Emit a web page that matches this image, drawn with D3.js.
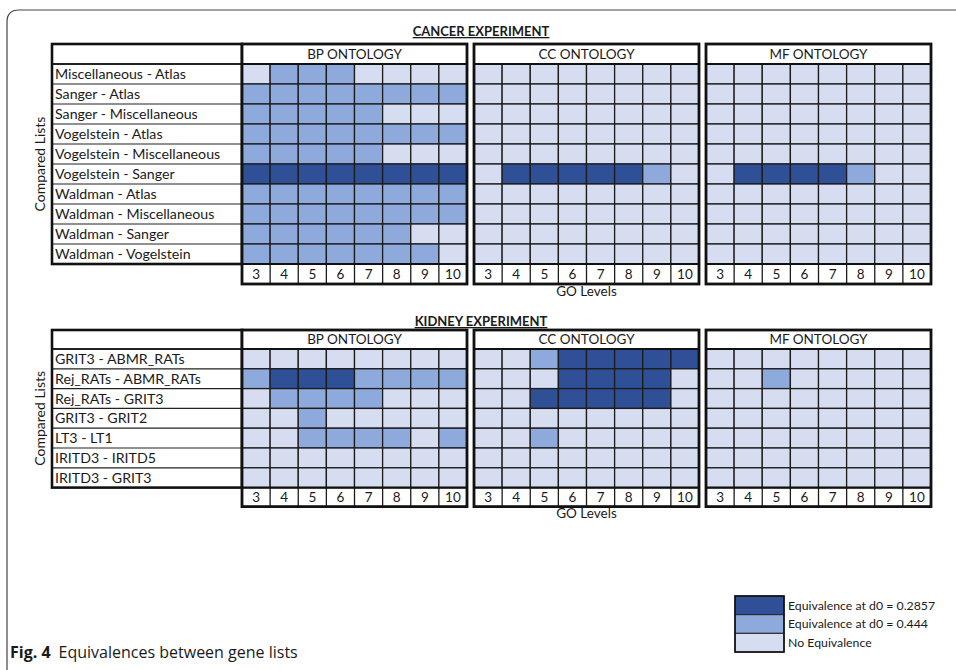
<!DOCTYPE html>
<html>
<head>
<meta charset="utf-8">
<script src="https://cdn.jsdelivr.net/npm/d3@7/dist/d3.min.js"></script>
<style>
  html, body { margin: 0; padding: 0; background: #fff; }
  svg { display: block; }
  text { font-family: Lato, "Open Sans", sans-serif; fill: #1a1a1a; }
</style>
</head>
<body>
<svg id="chart" width="956" height="670"></svg>
<script>
// GO levels shown on every panel
const levels = [3, 4, 5, 6, 7, 8, 9, 10];
const ontologies = ["BP ONTOLOGY", "CC ONTOLOGY", "MF ONTOLOGY"];

// Equivalence codes: 0 = none, 1 = equivalence at d0 = 0.444, 2 = equivalence at d0 = 0.2857
const legendLabels = ["Equivalence at d0 = 0.2857", "Equivalence at d0 = 0.444", "No Equivalence"];
const legendCodes = [2, 1, 0];

// Cancer experiment
const cancerPairs = [
  "Miscellaneous - Atlas", "Sanger - Atlas", "Sanger -  Miscellaneous", "Vogelstein - Atlas",
  "Vogelstein - Miscellaneous", "Vogelstein - Sanger", "Waldman - Atlas",
  "Waldman - Miscellaneous", "Waldman - Sanger", "Waldman - Vogelstein"
];
const cancerBP = [
  [0, 1, 1, 1, 0, 0, 0, 0],
  [1, 1, 1, 1, 1, 1, 1, 1],
  [1, 1, 1, 1, 1, 0, 0, 0],
  [1, 1, 1, 1, 1, 1, 1, 1],
  [1, 1, 1, 1, 1, 0, 0, 0],
  [2, 2, 2, 2, 2, 2, 2, 2],
  [1, 1, 1, 1, 1, 1, 1, 1],
  [1, 1, 1, 1, 1, 1, 1, 1],
  [1, 1, 1, 1, 1, 1, 0, 0],
  [1, 1, 1, 1, 1, 1, 1, 0]
];
const cancerCC = [
  [0, 0, 0, 0, 0, 0, 0, 0],
  [0, 0, 0, 0, 0, 0, 0, 0],
  [0, 0, 0, 0, 0, 0, 0, 0],
  [0, 0, 0, 0, 0, 0, 0, 0],
  [0, 0, 0, 0, 0, 0, 0, 0],
  [0, 2, 2, 2, 2, 2, 1, 0],
  [0, 0, 0, 0, 0, 0, 0, 0],
  [0, 0, 0, 0, 0, 0, 0, 0],
  [0, 0, 0, 0, 0, 0, 0, 0],
  [0, 0, 0, 0, 0, 0, 0, 0]
];
const cancerMF = [
  [0, 0, 0, 0, 0, 0, 0, 0],
  [0, 0, 0, 0, 0, 0, 0, 0],
  [0, 0, 0, 0, 0, 0, 0, 0],
  [0, 0, 0, 0, 0, 0, 0, 0],
  [0, 0, 0, 0, 0, 0, 0, 0],
  [0, 2, 2, 2, 2, 1, 0, 0],
  [0, 0, 0, 0, 0, 0, 0, 0],
  [0, 0, 0, 0, 0, 0, 0, 0],
  [0, 0, 0, 0, 0, 0, 0, 0],
  [0, 0, 0, 0, 0, 0, 0, 0]
];

// Kidney experiment
const kidneyPairs = [
  "GRIT3 - ABMR_RATs", "Rej_RATs - ABMR_RATs", "Rej_RATs - GRIT3", "GRIT3 - GRIT2",
  "LT3 - LT1", "IRITD3 - IRITD5", "IRITD3 - GRIT3"
];
const kidneyBP = [
  [0, 0, 0, 0, 0, 0, 0, 0],
  [1, 2, 2, 2, 1, 1, 1, 1],
  [0, 1, 1, 1, 1, 0, 0, 0],
  [0, 0, 1, 0, 0, 0, 0, 0],
  [0, 0, 1, 1, 1, 1, 0, 1],
  [0, 0, 0, 0, 0, 0, 0, 0],
  [0, 0, 0, 0, 0, 0, 0, 0]
];
const kidneyCC = [
  [0, 0, 1, 2, 2, 2, 2, 2],
  [0, 0, 0, 2, 2, 2, 2, 0],
  [0, 0, 2, 2, 2, 2, 2, 0],
  [0, 0, 0, 0, 0, 0, 0, 0],
  [0, 0, 1, 0, 0, 0, 0, 0],
  [0, 0, 0, 0, 0, 0, 0, 0],
  [0, 0, 0, 0, 0, 0, 0, 0]
];
const kidneyMF = [
  [0, 0, 0, 0, 0, 0, 0, 0],
  [0, 0, 1, 0, 0, 0, 0, 0],
  [0, 0, 0, 0, 0, 0, 0, 0],
  [0, 0, 0, 0, 0, 0, 0, 0],
  [0, 0, 0, 0, 0, 0, 0, 0],
  [0, 0, 0, 0, 0, 0, 0, 0],
  [0, 0, 0, 0, 0, 0, 0, 0]
];

const color = d3.scaleOrdinal().domain([0, 1, 2]).range(["#d6ddf0", "#8eaadc", "#2f4f96"]);

const svg = d3.select("#chart");

// Rounded figure frame (open on the right and bottom)
svg.append("path")
  .attr("d", "M7,670 L7,22 Q7,10 19,10 L956,10")
  .attr("fill", "none").attr("stroke", "#444").attr("stroke-width", 1.2);

const labelX0 = 52, labelX1 = 242;
const panelX = d3.scaleOrdinal().domain(ontologies).range([242, 474, 706]);
const panelW = 225;

function drawExperiment(title, pairs, grids, layout) {
  const { top, headerH, rowH, levelH, titleY } = layout;
  const g = svg.append("g");
  const y = d3.scaleBand().domain(pairs).range([top + headerH, top + headerH + pairs.length * rowH]);
  const gridBottom = y.range()[1];

  // Title
  g.append("text")
    .attr("x", 481).attr("y", titleY)
    .attr("text-anchor", "middle")
    .style("font-size", "13px").style("font-weight", "bold")
    .style("text-decoration", "underline")
    .text(title);

  // Label table
  g.append("rect")
    .attr("x", labelX0).attr("y", top)
    .attr("width", labelX1 - labelX0).attr("height", gridBottom - top)
    .attr("fill", "#fff");
  g.selectAll(".rowline").data(pairs).join("line")
    .attr("x1", labelX0).attr("x2", labelX1)
    .attr("y1", d => y(d)).attr("y2", d => y(d))
    .attr("stroke", "#222").attr("stroke-width", d => d === pairs[0] ? 2.2 : 1.2);
  g.selectAll(".rowlabel").data(pairs).join("text")
    .attr("x", labelX0 + 3)
    .attr("y", d => y(d) + y.bandwidth() / 2)
    .attr("dy", "0.36em")
    .style("font-size", "14.2px")
    .text(d => d);
  g.append("rect")
    .attr("x", labelX0).attr("y", top)
    .attr("width", labelX1 - labelX0).attr("height", gridBottom - top)
    .attr("fill", "none").attr("stroke", "#111").attr("stroke-width", 2.6);

  // "Compared Lists" side title
  const cy = (top + headerH + gridBottom) / 2;
  g.append("text")
    .attr("transform", `translate(45,${cy}) rotate(-90)`)
    .attr("text-anchor", "middle")
    .style("font-size", "14px")
    .text("Compared Lists");

  ontologies.forEach((ont, k) => {
    const x0 = panelX(ont);
    const x = d3.scaleBand().domain(levels).range([x0, x0 + panelW]);
    const pg = g.append("g");
    const bottom = gridBottom + levelH;

    pg.append("rect")
      .attr("x", x0).attr("y", top).attr("width", panelW).attr("height", bottom - top)
      .attr("fill", "#fff");

    const cells = [];
    pairs.forEach((p, i) => levels.forEach((lv, j) => cells.push({ p, lv, v: grids[k][i][j] })));
    pg.selectAll("rect.cell").data(cells).join("rect")
      .attr("class", "cell")
      .attr("x", d => x(d.lv)).attr("y", d => y(d.p))
      .attr("width", x.bandwidth()).attr("height", y.bandwidth())
      .attr("fill", d => color(d.v))
      .attr("stroke", "#1c1c1c").attr("stroke-width", 1.3);

    // Level row
    pg.selectAll("line.lv").data(levels.slice(1)).join("line")
      .attr("x1", d => x(d)).attr("x2", d => x(d))
      .attr("y1", gridBottom).attr("y2", bottom)
      .attr("stroke", "#1c1c1c").attr("stroke-width", 1.3);
    pg.selectAll("text.lv").data(levels).join("text")
      .attr("x", d => x(d) + x.bandwidth() / 2)
      .attr("y", gridBottom + levelH / 2)
      .attr("dy", "0.36em").attr("text-anchor", "middle")
      .style("font-size", "13.5px")
      .text(d => d);

    // Header
    pg.append("text")
      .attr("x", x0 + panelW / 2).attr("y", top + headerH / 2)
      .attr("dy", "0.36em").attr("text-anchor", "middle")
      .style("font-size", "13.5px")
      .text(ont);

    // Separators and panel frame
    pg.append("line")
      .attr("x1", x0).attr("x2", x0 + panelW).attr("y1", top + headerH).attr("y2", top + headerH)
      .attr("stroke", "#111").attr("stroke-width", 2);
    pg.append("line")
      .attr("x1", x0).attr("x2", x0 + panelW).attr("y1", gridBottom).attr("y2", gridBottom)
      .attr("stroke", "#111").attr("stroke-width", 2.2);
    pg.append("rect")
      .attr("x", x0).attr("y", top).attr("width", panelW).attr("height", bottom - top)
      .attr("fill", "none").attr("stroke", "#111").attr("stroke-width", 2.8);
  });

  // Axis title under the CC panel
  g.append("text")
    .attr("x", panelX("CC ONTOLOGY") + panelW / 2)
    .attr("y", gridBottom + levelH + 7)
    .attr("dy", "0.36em").attr("text-anchor", "middle")
    .style("font-size", "13.5px")
    .text("GO Levels");
}

drawExperiment("CANCER EXPERIMENT", cancerPairs, [cancerBP, cancerCC, cancerMF],
  { top: 44, headerH: 20, rowH: 20, levelH: 20, titleY: 36 });
drawExperiment("KIDNEY EXPERIMENT", kidneyPairs, [kidneyBP, kidneyCC, kidneyMF],
  { top: 330, headerH: 19, rowH: 19.8, levelH: 19, titleY: 326 });

// Legend
const legendY = d3.scaleBand().domain(legendLabels).range([596, 652]);
const lg = svg.append("g");
lg.selectAll("rect").data(legendLabels).join("rect")
  .attr("x", 735).attr("y", d => legendY(d))
  .attr("width", 49).attr("height", legendY.bandwidth())
  .attr("fill", (d, i) => color(legendCodes[i]))
  .attr("stroke", "#222").attr("stroke-width", 1);
lg.append("rect")
  .attr("x", 735).attr("y", 596).attr("width", 49).attr("height", 56)
  .attr("fill", "none").attr("stroke", "#111").attr("stroke-width", 1.6);
lg.selectAll("text").data(legendLabels).join("text")
  .attr("x", 788).attr("y", d => legendY(d) + legendY.bandwidth() / 2)
  .attr("dy", "0.36em")
  .style("font-size", "12.3px")
  .text(d => d);

// Caption
const cap = svg.append("text")
  .attr("x", 10).attr("y", 658)
  .style("font-family", "'Open Sans', 'Noto Sans', sans-serif")
  .style("font-size", "16px");
cap.append("tspan").style("font-weight", "bold").text("Fig. 4");
cap.append("tspan").attr("dx", 8).text("Equivalences between gene lists");
</script>
</body>
</html>
